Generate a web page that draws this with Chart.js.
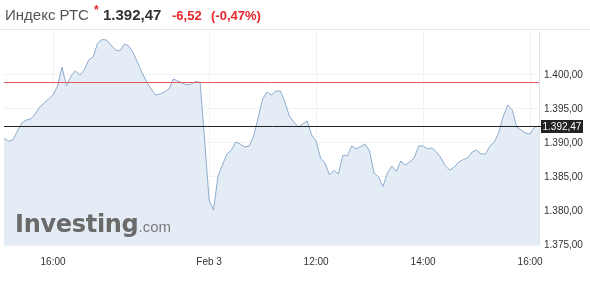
<!DOCTYPE html>
<html>
<head>
<meta charset="utf-8">
<script src="https://cdn.jsdelivr.net/npm/chart.js@4.4.0/dist/chart.umd.min.js"></script>
<style>
  body { margin: 0; background: #fff; font-family: "Liberation Sans", Arial, sans-serif; }
  #wrap { position: relative; width: 590px; height: 283px; overflow: hidden; }
  #chart { position: absolute; left: 0; top: 0; }
  #head { position: absolute; left: 0; top: 0; width: 590px; height: 29px; border-bottom: 1px solid #e6e6e6; white-space: nowrap; }
  #head span { position: absolute; top: 6px; }
  .name { left: 5px; font-size: 15px; color: #555; }
  .star { left: 94px; top: 3px !important; font-size: 12px; color: #e8262b; font-weight: bold; }
  .last { left: 103px; font-size: 15px; font-weight: bold; color: #333; top: 6px !important; }
  .chg { font-size: 13px; font-weight: bold; color: #e8262b; top: 8px !important; }
  #logo { position: absolute; left: 15px; top: 210px; color: #6a6a6a; white-space: nowrap; }
  #logo b { font-family: "DejaVu Sans", sans-serif; font-size: 24px; letter-spacing: -0.3px; font-weight: bold; }
  #logo i { font-style: normal; font-size: 15px; color: #787878; }
</style>
</head>
<body>
<div id="wrap">
  <canvas id="chart" width="590" height="283"></canvas>
  <div id="head">
    <span class="name">Индекс РТС</span>
    <span class="star">*</span>
    <span class="last">1.392,47</span>
    <span class="chg" style="left:172px">-6,52</span>
    <span class="chg" style="left:211px">(-0,47%)</span>
  </div>
  <div id="logo"><b>Investing</b><i>.com</i></div>
</div>
<script>
// 5-minute bars: previous session 15:05-18:50, then Feb 3 from 10:00
const times = [
  '15:05','15:10','15:15','15:20','15:25','15:30','15:35','15:40','15:45','15:50','15:55',
  '16:00','16:05','16:10','16:15','16:20','16:25','16:30','16:35','16:40','16:45','16:50','16:55',
  '17:00','17:05','17:10','17:15','17:20','17:25','17:30','17:35','17:40','17:45','17:50','17:55',
  '18:00','18:05','18:10','18:15','18:20','18:25','18:30','18:35','18:40','18:45','18:50',
  'Feb 3','10:05','10:10','10:15','10:20','10:25','10:30','10:35','10:40','10:45','10:50','10:55',
  '11:00','11:05','11:10','11:15','11:20','11:25','11:30','11:35','11:40','11:45','11:50','11:55',
  '12:00','12:05','12:10','12:15','12:20','12:25','12:30','12:35','12:40','12:45','12:50','12:55',
  '13:00','13:05','13:10','13:15','13:20','13:25','13:30','13:35','13:40','13:45','13:50','13:55',
  '14:00','14:05','14:10','14:15','14:20','14:25','14:30','14:35','14:40','14:45','14:50','14:55',
  '15:00','15:05','15:10','15:15','15:20','15:25','15:30','15:35','15:40','15:45','15:50','15:55',
  '16:00','16:05','16:10'
];
const rts = [
  1390.66, 1390.29, 1390.44, 1391.76, 1392.94, 1393.38, 1393.53, 1394.26, 1395.29, 1395.88, 1396.47,
  1397.06, 1398.38, 1401.18, 1398.38, 1399.85, 1400.59, 1400.00, 1400.74, 1402.21, 1402.65, 1404.71, 1405.22,
  1405.15, 1404.41, 1403.68, 1403.53, 1404.56, 1404.26, 1403.24, 1401.76, 1400.29, 1398.97, 1397.94, 1397.06,
  1397.21, 1397.50, 1397.94, 1399.41, 1399.12, 1398.82, 1398.53, 1398.68, 1399.04, 1398.90, 1390.44,
  1381.62, 1380.15, 1385.15, 1386.76, 1388.38, 1388.97, 1390.15, 1389.85, 1389.41, 1389.56, 1391.03, 1393.68,
  1396.47, 1397.50, 1397.06, 1397.65, 1397.65, 1396.03, 1393.97, 1393.09, 1392.35, 1392.79, 1393.24, 1391.18,
  1390.29, 1387.79, 1387.06, 1385.29, 1385.96, 1385.44, 1388.24, 1388.09, 1389.56, 1389.12, 1389.49, 1389.85,
  1388.82, 1385.59, 1385.00, 1383.60, 1385.59, 1386.62, 1385.81, 1387.35, 1386.76, 1387.21, 1387.79, 1389.56,
  1389.56, 1389.12, 1389.26, 1388.68, 1387.79, 1386.62, 1386.03, 1386.47, 1387.21, 1387.57, 1387.79, 1388.68,
  1388.97, 1388.38, 1388.38, 1389.56, 1390.15, 1391.62, 1393.97, 1395.59, 1394.85, 1392.35, 1391.91, 1391.47,
  1391.32, 1392.35, 1392.47
];
const xTickLabels = ['16:00', 'Feb 3', '12:00', '14:00', '16:00'];
const xTickIndex = [11, 46, 70, 94, 118];
const yTicks = [1375, 1380, 1385, 1390, 1395, 1400];
const prevClose = 1398.99;
const lastPrice = 1392.47;

const fmt = v => v.toLocaleString('de-DE', { minimumFractionDigits: 2, maximumFractionDigits: 2 });
const axisFont = { size: 10, family: '"Liberation Sans", Arial, sans-serif' };

// red previous-close line, black last-price line and its box
const levels = {
  id: 'levels',
  afterDatasetsDraw(chart) {
    const { ctx, chartArea: a, scales: { y } } = chart;
    const yr = Math.round(y.getPixelForValue(prevClose)) + 0.5;
    const yb = Math.round(y.getPixelForValue(lastPrice)) + 0.5;
    ctx.save();
    ctx.lineWidth = 1;
    ctx.strokeStyle = '#e4595c';
    ctx.beginPath(); ctx.moveTo(a.left, yr); ctx.lineTo(a.right, yr); ctx.stroke();
    ctx.strokeStyle = '#222';
    ctx.beginPath(); ctx.moveTo(a.left, yb); ctx.lineTo(a.right + 2, yb); ctx.stroke();
    ctx.fillStyle = '#222';
    ctx.fillRect(a.right + 2, yb - 6.5, 42, 13);
    ctx.fillStyle = '#fff';
    ctx.font = '10px "Liberation Sans", Arial, sans-serif';
    ctx.textBaseline = 'middle';
    ctx.fillText(fmt(lastPrice), a.right + 3.5, yb + 0.5);
    ctx.restore();
  }
};

new Chart(document.getElementById('chart'), {
  type: 'line',
  data: {
    labels: times,
    datasets: [{
      data: rts,
      borderColor: '#8eadcf',
      borderWidth: 1,
      backgroundColor: '#e4ecf5',
      fill: 'start',
      pointRadius: 0,
      tension: 0
    }]
  },
  options: {
    responsive: false,
    animation: false,
    layout: { padding: { left: 4, top: 31, right: 0, bottom: 0 } },
    plugins: { legend: { display: false }, tooltip: { enabled: false } },
    scales: {
      x: {
        offset: false,
        afterBuildTicks: s => { s.ticks = s.ticks.filter(t => xTickIndex.includes(t.value)); },
        afterFit: s => { s.height = 38; },
        ticks: {
          autoSkip: false,
          maxRotation: 0,
          padding: 11,
          color: '#333',
          font: axisFont,
          callback: (v) => xTickLabels[xTickIndex.indexOf(v)]
        },
        grid: { color: '#f0f2f4', drawTicks: false },
        border: { display: false }
      },
      y: {
        position: 'right',
        min: 1375,
        max: 1406.47,
        afterBuildTicks: s => { s.ticks = yTicks.map(v => ({ value: v })); },
        afterFit: s => { s.width = 51; },
        ticks: {
          padding: 5,
          color: '#333',
          font: axisFont,
          callback: v => fmt(v)
        },
        grid: { color: '#f0f2f4', drawTicks: false },
        border: { display: true, color: '#e3e3e3' }
      }
    }
  },
  plugins: [levels]
});
</script>
</body>
</html>
